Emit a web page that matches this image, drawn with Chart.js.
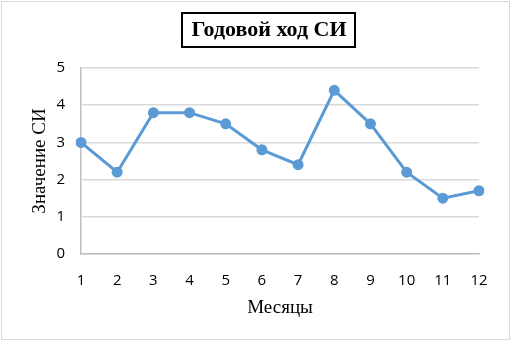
<!DOCTYPE html>
<html>
<head>
<meta charset="utf-8">
<script src="https://cdn.jsdelivr.net/npm/chart.js@4/dist/chart.umd.min.js"></script>
<style>
  html, body { margin: 0; padding: 0; background: #fff; }
  #wrap { width: 512px; height: 342px; position: relative; }
</style>
</head>
<body>
<div id="wrap"><canvas id="chart" width="512" height="342"></canvas></div>
<script>
const months = ['1', '2', '3', '4', '5', '6', '7', '8', '9', '10', '11', '12'];
const siValues = [3.0, 2.2, 3.8, 3.8, 3.5, 2.8, 2.4, 4.4, 3.5, 2.2, 1.5, 1.7];
const chartTitle = 'Годовой ход СИ';
const xTitle = 'Месяцы';
const yTitle = 'Значение СИ';

// frame round the whole picture and the boxed title
const framePlugin = {
    id: 'frame',
    beforeDraw(chart) {
        let ctx = chart.ctx;
        ctx.save();
        ctx.fillStyle = '#fff';
        ctx.fillRect(0, 0, chart.width, chart.height);
        ctx.strokeStyle = '#d9d9d9';
        ctx.lineWidth = 1;
        ctx.strokeRect(1.5, 1.5, chart.width - 4, chart.height - 4);
        ctx.restore();
    },
    afterDraw(chart) {
        let ctx = chart.ctx;
        ctx.save();
        ctx.font = 'bold 22px "Liberation Serif", "Times New Roman", serif';
        ctx.fillStyle = '#000';
        ctx.textAlign = 'center';
        ctx.textBaseline = 'middle';
        let cx = 269;
        let w = ctx.measureText(chartTitle).width;
        ctx.fillText(chartTitle, cx, 30);
        ctx.strokeStyle = '#000';
        ctx.lineWidth = 2;
        ctx.strokeRect(Math.round(cx - w / 2 - 9), 13, Math.round(w + 18), 34);
        ctx.restore();
    }
};

let ctx = document.getElementById('chart');

new Chart(ctx, {
    type: 'line',
    data: {
        labels: months,
        datasets: [{
            data: siValues,
            borderColor: '#5b9bd5',
            backgroundColor: '#5b9bd5',
            borderWidth: 3,
            pointRadius: 5.5,
            pointHoverRadius: 5.5,
            pointBorderWidth: 0,
            tension: 0
        }]
    },
    options: {
        responsive: false,
        animation: false,
        layout: {
            padding: { top: 68, right: 33, bottom: 0, left: 10 }
        },
        plugins: {
            legend: { display: false },
            title: { display: false },
            tooltip: { enabled: false }
        },
        scales: {
            x: {
                offset: false,
                afterFit(scale) { scale.height = 88; },
                grid: { display: false, drawTicks: false },
                border: { display: true, color: '#bfbfbf', width: 1.5 },
                ticks: {
                    padding: 18,
                    color: '#000',
                    font: { family: '"Open Sans", sans-serif', size: 15 },
                    maxRotation: 0
                },
                title: {
                    display: true,
                    text: xTitle,
                    color: '#000',
                    font: { family: '"Liberation Serif", "Times New Roman", serif', size: 19 },
                    padding: { top: 0, bottom: 23 }
                }
            },
            y: {
                min: 0,
                max: 5,
                afterFit(scale) { scale.width = 71; },
                ticks: {
                    stepSize: 1,
                    padding: 16,
                    color: '#000',
                    font: { family: '"Open Sans", sans-serif', size: 15 }
                },
                grid: { color: '#d9d9d9', lineWidth: 1.5, drawTicks: false },
                border: { display: true, color: '#bfbfbf', width: 1.5 },
                title: {
                    display: true,
                    text: yTitle,
                    color: '#000',
                    font: { family: '"Liberation Serif", "Times New Roman", serif', size: 19 },
                    padding: { top: 19, bottom: 0 }
                }
            }
        }
    },
    plugins: [framePlugin]
});
</script>
</body>
</html>
